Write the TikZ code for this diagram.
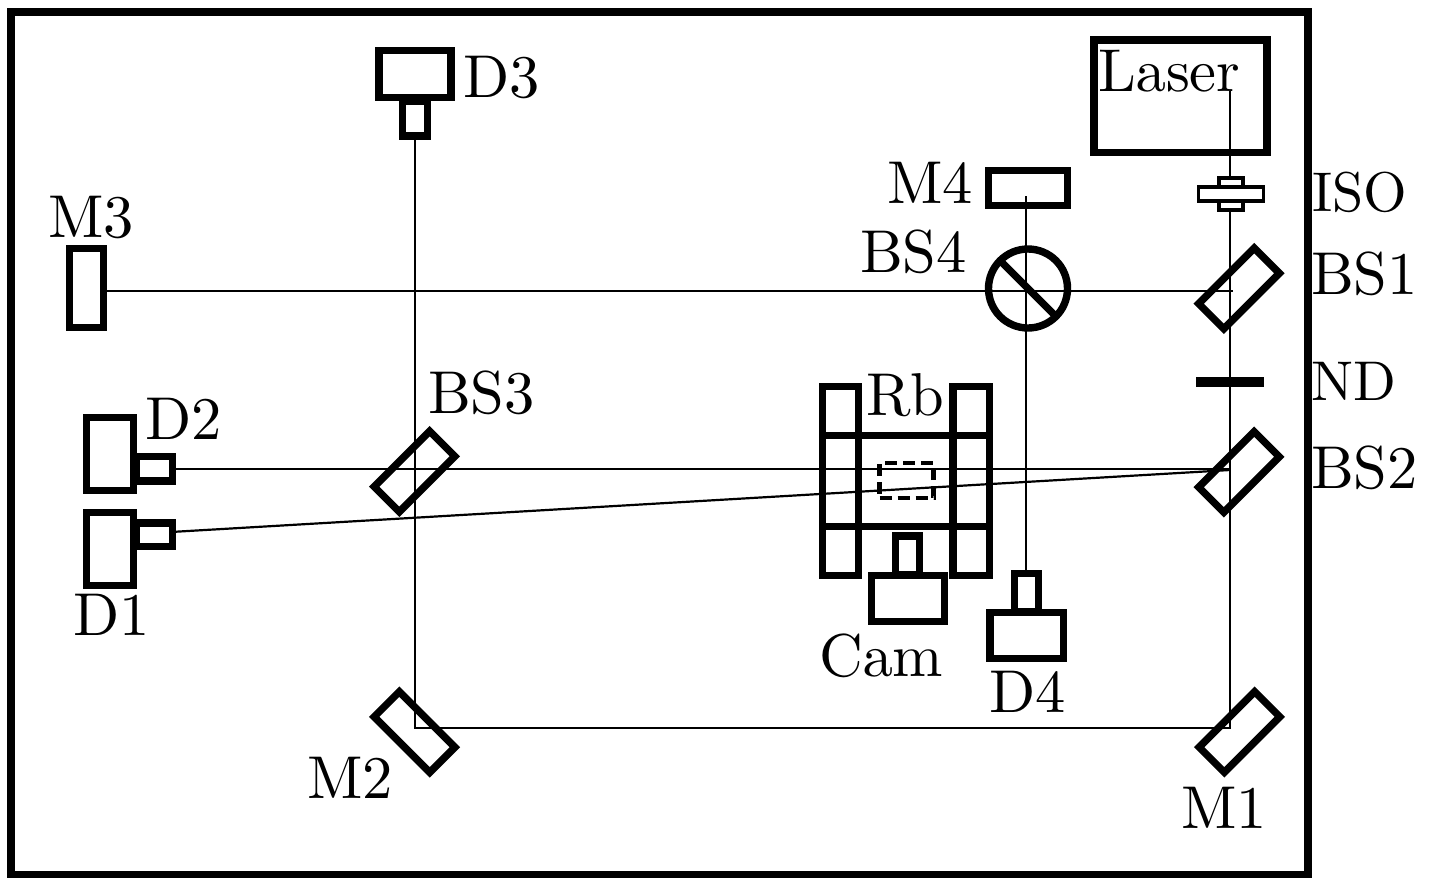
\documentclass[tikz,border=0pt]{standalone}
\font\labfont=cmr10 at 60.5pt
\font\smlabfont=cmr10 at 56pt
\tikzset{
  part/.style={draw=black,line width=7.4pt,rectangle,inner sep=0pt,outer sep=0pt,miter limit=10},
  beam/.style={draw=black,line width=2.2pt},
  lab/.style={anchor=base west,inner sep=0pt,outer sep=0pt,font=\labfont},
  smlab/.style={lab,font=\smlabfont}
}
\newcommand{\optic}[3]{\node[part,minimum width=78.5pt,minimum height=35.5pt,rotate=#3] (#1) at (#2) {};}
\begin{document}
\begin{tikzpicture}[x=1pt,y=-1pt]
\useasboundingbox (0,0) rectangle (1429,884);
% named beam points
\coordinate (laserout) at (1230,91);
\coordinate (mone) at (1230,728);
\coordinate (mtwo) at (415,728);
\coordinate (bsone) at (1233,291);
\coordinate (bstwo) at (1230,469);
\coordinate (bstwob) at (1230,470);
\coordinate (mfourhit) at (1026,196);
\coordinate (dfourin) at (1026,573);
\coordinate (dthreein) at (415,136);
\coordinate (mthreein) at (105,291);
\coordinate (dtwoin) at (172.5,469);
\coordinate (doneiin) at (176,531.7);
% beams
\draw[beam] (laserout) -- (mone) -- (mtwo) -- (dthreein);
\draw[beam] (bsone) -- (mthreein);
\draw[beam] (mfourhit) -- (dfourin);
\draw[beam] (dtwoin) -- (bstwo);
\draw[beam] (doneiin) -- (bstwob);
% frame and laser
\node[part,line width=7.6pt,minimum width=1297pt,minimum height=862.5pt] (frame) at (659.3,443.2) {};
\node[part,minimum width=173pt,minimum height=112.5pt] (laser) at (1180.5,96.25) {};
% isolator
\node[part,line width=3.4pt,fill=white,minimum width=24pt,minimum height=32pt] (isocore) at (1231,194) {};
\node[part,line width=3.4pt,fill=white,minimum width=65pt,minimum height=14pt] (iso) at (1231,194) {};
% optics
\optic{bs1}{1239,288.5}{45}
\optic{bs2}{1239,472}{45}
\optic{m1}{1239.5,732}{45}
\optic{bs3}{414.5,471.5}{45}
\optic{m2}{414.5,732}{-45}
\node[fill=black,inner sep=0pt,outer sep=0pt,minimum width=68pt,minimum height=10pt] (nd) at (1230,381.5) {};
% mirrors
\node[part,minimum width=34pt,minimum height=79pt] (m3) at (86.5,288) {};
\node[part,minimum width=79pt,minimum height=35pt] (m4) at (1028,188) {};
\node[part,circle,minimum size=79pt] (bs4) at (1028,288.5) {};
\draw[line width=7.4pt] (bs4.135) -- (bs4.-45);
% detectors
\node[part,minimum width=72pt,minimum height=47pt] (d3) at (415,74) {};
\node[part,minimum width=25pt,minimum height=35pt] (d3l) at (415,118.5) {};
\node[part,minimum width=47pt,minimum height=73pt] (d2) at (110,454) {};
\node[part,minimum width=36.5pt,minimum height=24.5pt] (d2l) at (154.25,468.75) {};
\node[part,minimum width=47pt,minimum height=73pt] (d1) at (110,549) {};
\node[part,minimum width=36.5pt,minimum height=23.5pt] (d1l) at (154.25,534.75) {};
\node[part,minimum width=73.3pt,minimum height=46pt] (d4) at (1026.6,635.5) {};
\node[part,minimum width=24pt,minimum height=38.5pt] (d4l) at (1026.5,592.75) {};
% Rb cell
\node[part,minimum width=36pt,minimum height=189pt] (rbl) at (840.5,481) {};
\node[part,minimum width=36.5pt,minimum height=189pt] (rbr) at (971.25,481) {};
\draw[line width=7.4pt] (rbl.west |- 0,435.7) -- (rbr.east |- 0,435.7);
\draw[line width=7.4pt] (rbl.west |- 0,526.7) -- (rbr.east |- 0,526.7);
\node[draw=black,line width=4.4pt,dash pattern=on 12pt off 6pt,inner sep=0pt,outer sep=0pt,minimum width=54pt,minimum height=35pt] (cell) at (906.5,480.5) {};
% camera
\node[part,minimum width=24pt,minimum height=39pt] (caml) at (907.5,555.5) {};
\node[part,minimum width=73pt,minimum height=46pt] (cam) at (908,598.5) {};
% labels
\node[lab] (tD3) at (463,97) {D3};
\node[lab] (tLaser) at (1098,91) {Laser};
\node[lab] (tM4) at (887,203) {M4};
\node[smlab] (tISO) at (1312.5,211.7) {ISO};
\node[lab] (tBS4) at (860,272) {BS4};
\node[lab] (tBS1) at (1311,294) {BS1};
\node[lab] (tM3) at (48,237) {M3};
\node[lab] (tBS3) at (428,413) {BS3};
\node[lab] (tRb) at (866,415) {Rb};
\node[smlab] (tND) at (1311.5,400) {ND};
\node[lab] (tBS2) at (1311,488) {BS2};
\node[lab] (tD2) at (145,439) {D2};
\node[lab] (tD1) at (73,635) {D1};
\node[lab] (tCam) at (819,676) {Cam};
\node[lab] (tD4) at (989,712) {D4};
\node[lab] (tM2) at (307,798) {M2};
\node[lab] (tM1) at (1181,828) {M1};
\end{tikzpicture}
\end{document}
